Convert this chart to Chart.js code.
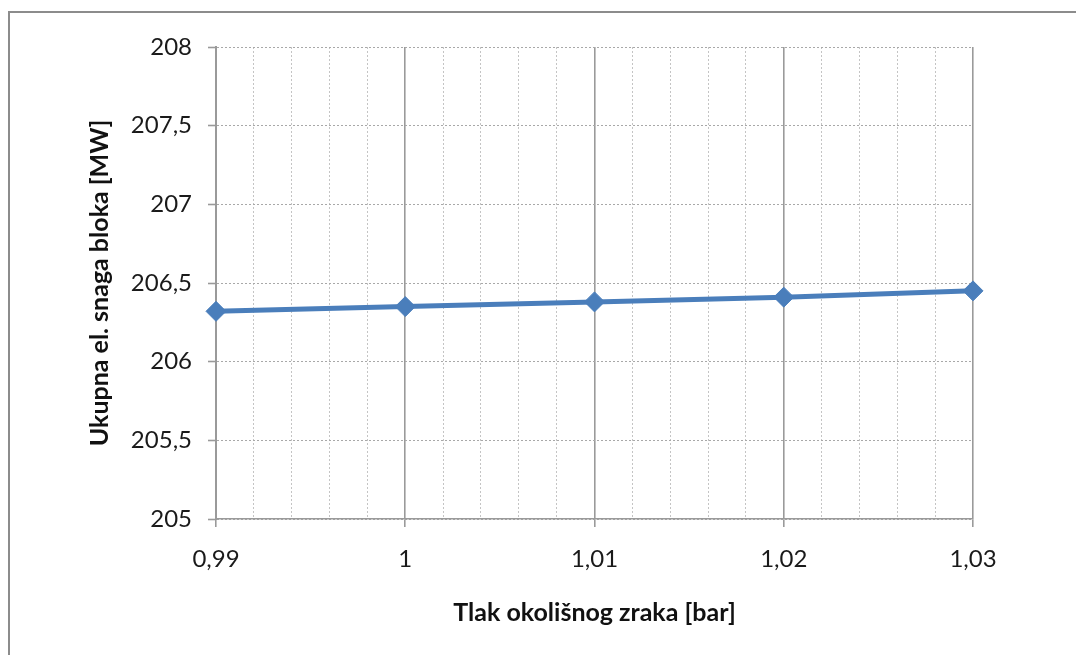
<!DOCTYPE html>
<html>
<head>
<meta charset="utf-8">
<script src="https://cdn.jsdelivr.net/npm/chart.js@4"></script>
<style>
  html, body { margin: 0; padding: 0; background: #fff; }
  #wrap { position: relative; width: 1076px; height: 655px; overflow: hidden; }
  #frame { position: absolute; left: 8px; top: 11px; width: 2000px; height: 2000px;
           border-left: 2px solid #8c8c8c; border-top: 2px solid #8c8c8c; box-sizing: border-box; }
  canvas { position: absolute; left: 0; top: 0; }
</style>
</head>
<body>
<div id="wrap">
  <div id="frame"></div>
  <canvas id="c" width="1076" height="655"></canvas>
</div>
<script>
// ---- data ----
const pressure = [0.99, 1.00, 1.01, 1.02, 1.03];           // Tlak okolišnog zraka [bar]
const power    = [206.32, 206.35, 206.38, 206.41, 206.45]; // Ukupna el. snaga bloka [MW]
const xTitle = 'Tlak okolišnog zraka [bar]';
const yTitle = 'Ukupna el. snaga bloka [MW]';
const xMin = 0.99, xMax = 1.03, xMajor = 0.01, xMinor = 0.002;
const yMin = 205, yMax = 208, yStep = 0.5;

const fmt = v => Number(v.toFixed(3)).toString().replace('.', ',');
const isMajor = v => Math.abs(v / xMajor - Math.round(v / xMajor)) < 1e-6;

const points = pressure.map((x, i) => ({ x: x, y: power[i] }));

new Chart(document.getElementById('c'), {
  type: 'line',
  data: {
    datasets: [{
      data: points,
      borderColor: '#4a7ebb',
      backgroundColor: '#4a7ebb',
      borderWidth: 5,
      pointStyle: 'rectRot',
      pointRadius: 10,
      pointHoverRadius: 10,
      pointBorderWidth: 1,
      pointBorderColor: '#4a7ebb',
      pointBackgroundColor: '#4a7ebb',
      tension: 0,
      clip: false
    }]
  },
  options: {
    responsive: false,
    animation: false,
    events: [],
    layout: { padding: { left: 0, top: 47, right: 103, bottom: 0 } },
    plugins: { legend: { display: false }, tooltip: { enabled: false } },
    scales: {
      x: {
        type: 'linear',
        min: xMin, max: xMax,
        afterFit: s => { s.height = 136; },
        ticks: {
          stepSize: xMinor,
          autoSkip: false,
          maxRotation: 0,
          padding: 18,
          color: '#1a1a1a',
          font: { family: 'Lato', size: 24 },
          callback: v => isMajor(v) ? fmt(v) : ''
        },
        grid: {
          color: c => isMajor(c.tick.value) ? '#9a9a9a' : '#c4c4c4',
          lineWidth: c => isMajor(c.tick.value) ? 1.6 : 1,
          tickColor: c => isMajor(c.tick.value) ? '#9a9a9a' : 'rgba(0,0,0,0)',
          tickLength: 8,
          tickWidth: 1.6
        },
        border: {
          color: '#9a9a9a', width: 1.6,
          dash: c => (c.tick && isMajor(c.tick.value)) ? [] : [2, 2]
        },
        title: {
          display: true, text: xTitle, color: '#111',
          font: { family: 'Lato', size: 25, weight: 'bold' },
          padding: { top: 0, bottom: 27 }
        }
      },
      y: {
        min: yMin, max: yMax,
        afterFit: s => { s.width = 216; },
        ticks: {
          stepSize: yStep,
          padding: 16,
          color: '#1a1a1a',
          font: { family: 'Lato', size: 24 },
          callback: v => fmt(v)
        },
        grid: {
          color: '#a8a8a8',
          lineWidth: 1,
          tickColor: '#9a9a9a',
          tickLength: 8,
          tickWidth: 1.6
        },
        border: { color: '#9a9a9a', width: 2, dash: [2, 2] },
        title: {
          display: true, text: yTitle, color: '#111',
          font: { family: 'Lato', size: 25, weight: 'bold' },
          padding: { top: 85, bottom: 0 }
        }
      }
    }
  }
});
</script>
</body>
</html>
